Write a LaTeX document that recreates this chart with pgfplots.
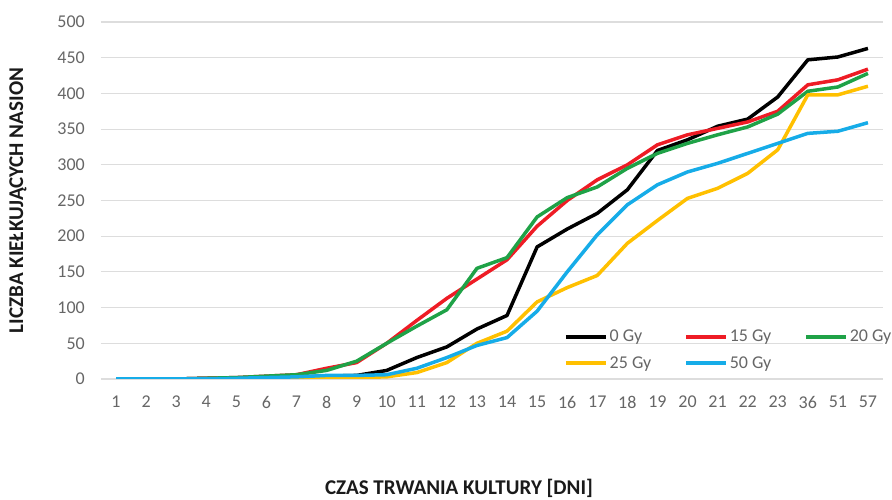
\documentclass[border=0pt]{standalone}
\usepackage{pgfplots}
\usepackage{pgfplotstable}
\pgfplotsset{compat=1.18}
\usepackage{fontspec}
\setmainfont{Carlito}
\definecolor{cblack}{HTML}{000000}
\definecolor{cred}{HTML}{EE1C25}
\definecolor{cgreen}{HTML}{1FA247}
\definecolor{cyellow}{HTML}{FFC000}
\definecolor{cblue}{HTML}{16ACE8}
\definecolor{tickgray}{HTML}{666666}
\definecolor{gridgray}{HTML}{DDDDDD}
\definecolor{labelgray}{HTML}{1A1A1A}
\pgfplotstableread{
x g0 g15 g20 g25 g50
0 0 0 0 0 0
1 0 0 0 0 0
2 0 0 0 0 0
3 1 1 1 0 0
4 1 2 2 0 1
5 2 4 4 1 2
6 3 6 6 1 3
7 4 15 12 1 5
8 5 23 25 2 5
9 12 50 50 3 6
10 30 82 74 9 15
11 45 113 97 23 30
12 70 140 155 50 47
13 89 167 170 67 58
14 185 214 227 108 95
15 210 250 254 128 150
16 232 279 269 145 202
17 265 300 295 190 244
18 320 328 316 222 272
19 335 342 330 253 290
20 354 351 342 267 302
21 364 360 353 288 316
22 395 375 371 321 330
23 447 412 403 398 344
24 451 419 409 398 347
25 463 434 428 410 359
}\data
\begin{document}
\begin{tikzpicture}
\useasboundingbox (-101pt,-121pt) rectangle (791pt,379pt);
\begin{axis}[
  scale only axis,
  width=782pt, height=357pt,
  xmin=-0.5, xmax=25.5,
  ymin=0, ymax=500,
  xtick={0,...,25},
  xticklabels={1,2,3,4,5,6,7,8,9,10,11,12,13,14,15,16,17,18,19,20,21,22,23,36,51,57},
  ytick={0,50,...,500},
  ymajorgrids,
  grid style={gridgray, line width=1.2pt},
  axis line style={draw=none},
  major tick length=0pt,
  tick label style={font=\fontsize{18}{20}\selectfont, text=tickgray, inner sep=0pt},
  /pgf/number format/assume math mode=true,
  xticklabel style={anchor=north, yshift=-17pt},
  yticklabel style={anchor=east, xshift=-16pt},
  xlabel={\textbf{CZAS TRWANIA KULTURY [DNI]}},
  ylabel={\textbf{LICZBA KIEŁKUJĄCYCH NASION}},
  label style={font=\fontsize{21}{24}\selectfont, text=labelgray, inner sep=0pt},
  xlabel style={at={(axis description cs:0.5,0)}, anchor=center, yshift=-109pt, xshift=-33pt},
  ylabel style={at={(axis description cs:0,0.5)}, anchor=center, yshift=83pt},
  legend columns=3,
  legend style={draw=none, fill=none, inner sep=0pt, at={(463pt,51pt)}, anchor=north west,
    font=\fontsize{18}{20}\selectfont, text=tickgray,
    nodes={inner sep=2pt},
    /tikz/every even column/.append style={column sep=31pt},
    row sep=9pt},
  legend cell align=left,
  legend image code/.code={\draw[#1, line width=3.5pt] (0pt,0pt) -- (40pt,0pt);},
  every axis plot/.append style={line width=3.5pt, line join=round},
]
\addplot[cblack] table[x=x,y=g0]{\data};
\addlegendentry{0 Gy}
\addplot[cred] table[x=x,y=g15]{\data};
\addlegendentry{15 Gy}
\addplot[cgreen] table[x=x,y=g20]{\data};
\addlegendentry{20 Gy}
\addplot[cyellow] table[x=x,y=g25]{\data};
\addlegendentry{25 Gy}
\addplot[cblue] table[x=x,y=g50]{\data};
\addlegendentry{50 Gy}
\end{axis}
\end{tikzpicture}
\end{document}
